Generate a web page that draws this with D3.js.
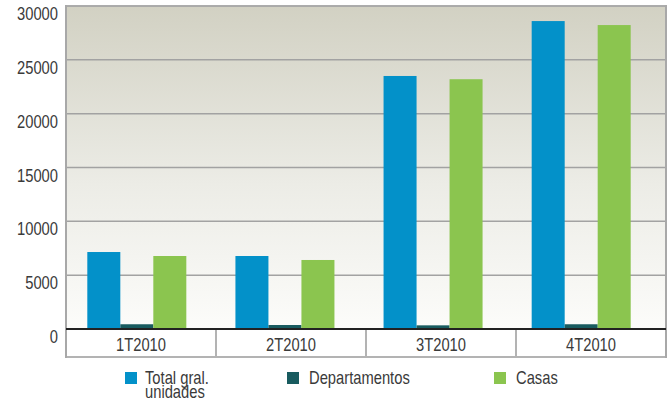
<!DOCTYPE html>
<html><head><meta charset="utf-8">
<script src="https://cdn.jsdelivr.net/npm/d3@7"></script>
<style>
html,body{margin:0;padding:0;background:#fff;}
text{font-family:"Liberation Sans",Arial,sans-serif;fill:#3a3a3a;}
</style></head>
<body><svg id="c" width="672" height="403"></svg>
<script>
const categories = ["1T2010","2T2010","3T2010","4T2010"];
const seriesNames = ["Total gral. unidades","Departamentos","Casas"];
const totalUnits = [7150, 6780, 23500, 28600];
const departamentos = [440, 370, 340, 440];
const casas = [6780, 6410, 23200, 28230];
const yTicks = [0,5000,10000,15000,20000,25000,30000];
const colors = ["#0391c9","#185b5f","#8bc54f"];

const SX = 0.82; // horizontal condense to mimic narrow face
const svg = d3.select("#c");
const L = 66, R = 666, T = 6, B = 329, tableB = 357;
const y = d3.scaleLinear().domain([0,30000]).range([B,T]);
const xCell = d3.scaleBand().domain(categories).range([L,R]);
const xGroup = d3.scaleBand().domain(categories).range([62.75,655.25]).paddingInner(0.3316).paddingOuter(0.1658);
const xSeries = d3.scaleBand().domain(seriesNames).range([0,xGroup.bandwidth()]);

const defs = svg.append("defs");
const g = defs.append("linearGradient").attr("id","bg").attr("x1",0).attr("y1",0).attr("x2",0).attr("y2",1);
g.append("stop").attr("offset","0%").attr("stop-color","#d2d1c3");
g.append("stop").attr("offset","55%").attr("stop-color","#ecece6");
g.append("stop").attr("offset","100%").attr("stop-color","#fcfcfa");

svg.append("rect").attr("x",L).attr("y",T).attr("width",R-L).attr("height",B-T).attr("fill","url(#bg)");

// grid
svg.append("g").selectAll("line").data(yTicks.filter(d=>d>0)).join("line")
  .attr("x1",L).attr("x2",R).attr("y1",d=>y(d)).attr("y2",d=>y(d))
  .attr("stroke","#a2a2a2").attr("stroke-width",1.5);

// y axis labels via d3 axis
const yAxis = svg.append("g").attr("transform",`translate(${L},0)`)
  .call(d3.axisLeft(y).tickValues(yTicks).tickSize(0).tickPadding(0).tickFormat(d3.format("d")));
yAxis.select(".domain").remove();
yAxis.selectAll("text").attr("font-size",18).attr("dy","0.75em").attr("fill","#3a3a3a")
  .attr("x",-8/SX).attr("transform",`scale(${SX},1)`)
  .style("font-family",'"Liberation Sans",Arial,sans-serif');

// bars
const data = categories.map((c,i)=>({cat:c, vals:[totalUnits[i],departamentos[i],casas[i]]}));
const grp = svg.append("g").selectAll("g").data(data).join("g")
  .attr("transform",d=>`translate(${xGroup(d.cat)},0)`);
grp.selectAll("rect").data(d=>d.vals.map((v,k)=>({k,v}))).join("rect")
  .attr("x",d=>xSeries(seriesNames[d.k])).attr("width",xSeries.bandwidth())
  .attr("y",d=>y(d.v)).attr("height",d=>B-y(d.v))
  .attr("fill",d=>colors[d.k]);

// table
svg.append("rect").attr("x",L).attr("y",B).attr("width",R-L).attr("height",tableB-B).attr("fill","#fff");
svg.append("g").selectAll("line").data(categories.slice(1)).join("line")
  .attr("x1",d=>xCell(d)).attr("x2",d=>xCell(d)).attr("y1",B).attr("y2",tableB)
  .attr("stroke","#b3b3b3").attr("stroke-width",2);
svg.append("line").attr("x1",L).attr("x2",R).attr("y1",tableB).attr("y2",tableB).attr("stroke","#b3b3b3").attr("stroke-width",2);
svg.append("line").attr("x1",L).attr("x2",L).attr("y1",T-1).attr("y2",tableB+1).attr("stroke","#a8a8a8").attr("stroke-width",2);
svg.append("line").attr("x1",R).attr("x2",R).attr("y1",T-1).attr("y2",tableB+1).attr("stroke","#a8a8a8").attr("stroke-width",2);
svg.append("line").attr("x1",L).attr("x2",R).attr("y1",T).attr("y2",T).attr("stroke","#a8a8a8").attr("stroke-width",1.5);
svg.append("line").attr("x1",L).attr("x2",R).attr("y1",B).attr("y2",B).attr("stroke","#222").attr("stroke-width",2);
svg.append("g").selectAll("text").data(categories).join("text")
  .attr("transform",d=>`translate(${xCell(d)+xCell.bandwidth()/2},351) scale(${SX},1)`)
  .attr("text-anchor","middle").attr("font-size",18).text(d=>d);

// legend
const legend = [
  {sx:125, tx:145, lines:["Total gral.","unidades"]},
  {sx:287, tx:309, lines:["Departamentos"]},
  {sx:494, tx:516, lines:["Casas"]}
];
const lg = svg.append("g").selectAll("g").data(legend).join("g");
lg.append("rect").attr("x",d=>d.sx).attr("y",372).attr("width",12).attr("height",12).attr("fill",(d,i)=>colors[i]);
lg.append("text").attr("transform",d=>`translate(${d.tx},384) scale(${SX},1)`).attr("font-size",18)
  .selectAll("tspan").data(d=>d.lines.map((t,j)=>({t,j}))).join("tspan")
  .attr("x",0).attr("dy",d=>d.j?14:0).text(d=>d.t);
</script></body></html>
